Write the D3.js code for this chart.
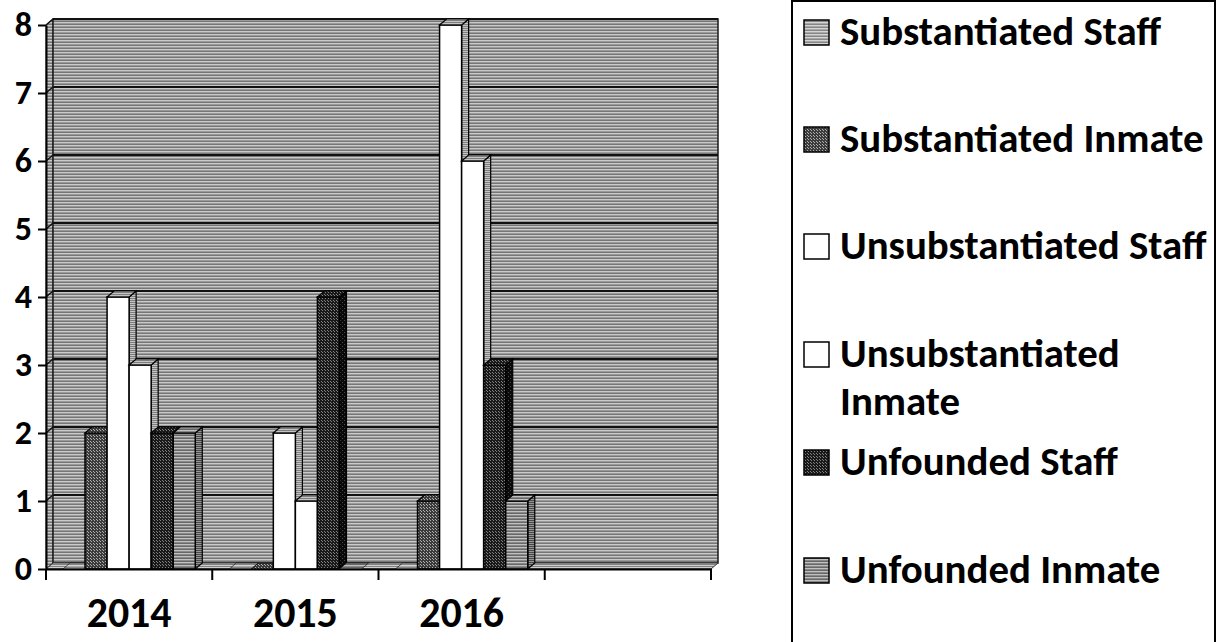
<!DOCTYPE html>
<html><head><meta charset="utf-8">
<script src="https://cdn.jsdelivr.net/npm/d3@7"></script>
<style>body{margin:0;background:#fff;} svg{display:block;}</style>
</head><body>
<svg id="chart" width="1227" height="642"></svg>
<script>
// ---- data ----
const categories = ["2014", "2015", "2016"];
const xSlotLabels = ["2014", "2015", "2016", ""];
const seriesNames = ["Substantiated Staff", "Substantiated Inmate", "Unsubstantiated Staff",
                     "Unsubstantiated Inmate", "Unfounded Staff", "Unfounded Inmate"];
const substantiatedStaff   = [0, 0, 0];
const substantiatedInmate  = [2, 0, 1];
const unsubstantiatedStaff = [4, 2, 8];
const unsubstantiatedInmate= [3, 1, 6];
const unfoundedStaff       = [2, 4, 3];
const unfoundedInmate      = [2, 0, 1];
const yTicks = [0, 1, 2, 3, 4, 5, 6, 7, 8];
const legendLines = [["Substantiated Staff"], ["Substantiated Inmate"], ["Unsubstantiated Staff"],
                     ["Unsubstantiated", "Inmate"], ["Unfounded Staff"], ["Unfounded Inmate"]];

const seriesValues = [substantiatedStaff, substantiatedInmate, unsubstantiatedStaff,
                      unsubstantiatedInmate, unfoundedStaff, unfoundedInmate];
const table = seriesNames.map((n, i) => ({name: n, values: seriesValues[i]}));

// ---- setup ----
const svg = d3.select("#chart");
const FONT = "Carlito, Calibri, Lato, 'Open Sans', sans-serif";
const defs = svg.append("defs");

function stripePattern(id, rows, w) {
  const p = defs.append("pattern").attr("id", id).attr("patternUnits", "userSpaceOnUse")
    .attr("width", w || 1).attr("height", rows.length);
  rows.forEach((c, i) => p.append("rect").attr("x", 0).attr("y", i).attr("width", w || 1).attr("height", 1).attr("fill", c));
}
function dotPattern(id, base, dot, size) {
  const p = defs.append("pattern").attr("id", id).attr("patternUnits", "userSpaceOnUse")
    .attr("width", size).attr("height", size);
  p.append("rect").attr("width", size).attr("height", size).attr("fill", base);
  p.append("rect").attr("x", 0).attr("y", 0).attr("width", 1).attr("height", 1).attr("fill", dot);
  p.append("rect").attr("x", Math.floor(size/2)).attr("y", Math.floor(size/2)).attr("width", 1).attr("height", 1).attr("fill", dot);
}
stripePattern("wall", ["#767676", "#cacaca", "#9a9a9a"]);
stripePattern("floor", ["#828282", "#cfcfcf"]);
stripePattern("pSS", ["#868686", "#d4d4d4", "#a8a8a8"]);
stripePattern("pSSside", ["#5e5e5e", "#a8a8a8"]);
dotPattern("pSI", "#3c3c3c", "#b0b0b0", 3);
dotPattern("pSIside", "#262626", "#7a7a7a", 3);
dotPattern("pUF", "#1a1a1a", "#808080", 3);
dotPattern("pUFside", "#0a0a0a", "#4a4a4a", 4);
stripePattern("pUI", ["#686868", "#c0c0c0", "#888888"]);
stripePattern("pUIside", ["#484848", "#969696"]);
stripePattern("pWside", ["#7e7e7e", "#c4c4c4"]);

const fills = {
  "Substantiated Staff":   {front: "url(#pSS)", top: "url(#pSS)", side: "url(#pSSside)"},
  "Substantiated Inmate":  {front: "url(#pSI)", top: "url(#pSI)", side: "url(#pSIside)"},
  "Unsubstantiated Staff": {front: "#ffffff", top: "url(#pWside)", side: "url(#pWside)"},
  "Unsubstantiated Inmate":{front: "#ffffff", top: "url(#pWside)", side: "url(#pWside)"},
  "Unfounded Staff":       {front: "url(#pUF)", top: "url(#pUF)", side: "url(#pUFside)"},
  "Unfounded Inmate":      {front: "url(#pUI)", top: "url(#pUI)", side: "url(#pUIside)"}
};

// ---- scales ----
const left = 46, right = 711, base = 569, topY = 25;
const DX = 7, DY = -6;
const x0 = d3.scaleBand().domain(d3.range(xSlotLabels.length)).range([left, right]).padding(0);
const x1 = d3.scaleBand().domain(seriesNames).range([0, x0.bandwidth()]).paddingInner(0).paddingOuter(0.77);
const y = d3.scaleLinear().domain([0, 8]).range([base, topY]);

const g = svg.append("g");
const poly = pts => pts.map(p => p.join(",")).join(" ");

// walls & floor
g.append("polygon").attr("points", poly([[left, y(0)], [left + DX, y(0) + DY], [left + DX, y(8) + DY], [left, y(8)]]))
  .attr("fill", "url(#wall)").attr("stroke", "#222").attr("stroke-width", 1);
g.append("rect").attr("x", left + DX).attr("y", y(8) + DY).attr("width", right - left).attr("height", y(0) - y(8))
  .attr("fill", "url(#wall)").attr("stroke", "#1a1a1a").attr("stroke-width", 1.5);
g.append("polygon").attr("points", poly([[left, y(0)], [right, y(0)], [right + DX, y(0) + DY], [left + DX, y(0) + DY]]))
  .attr("fill", "url(#floor)").attr("stroke", "#333").attr("stroke-width", 1);

// gridlines
const grid = g.append("g");
yTicks.filter(v => v > 0).forEach(v => {
  grid.append("line").attr("x1", left + DX).attr("x2", right + DX).attr("y1", y(v) + DY).attr("y2", y(v) + DY)
    .attr("stroke", "#111").attr("stroke-width", 2);
  grid.append("line").attr("x1", left).attr("x2", left + DX).attr("y1", y(v)).attr("y2", y(v) + DY)
    .attr("stroke", "#111").attr("stroke-width", 1.5);
});

// bars (left to right for correct overlap)
const bw = x1.bandwidth();
const barsG = g.append("g");
categories.forEach((cat, ci) => {
  table.forEach(s => {
    const v = s.values[ci];
    const bx = x0(ci) + x1(s.name);
    const by = y(v), b0 = y(0);
    const f = fills[s.name];
    const bg = barsG.append("g");
    if (v > 0) {
      bg.append("polygon").attr("points", poly([[bx + bw, by], [bx + bw + DX, by + DY], [bx + bw + DX, b0 + DY], [bx + bw, b0]]))
        .attr("fill", f.side).attr("stroke", "#000").attr("stroke-width", 1.2);
      bg.append("rect").attr("x", bx).attr("y", by).attr("width", bw).attr("height", b0 - by)
        .attr("fill", f.front).attr("stroke", "#000").attr("stroke-width", 1.5);
    }
    bg.append("polygon").attr("points", poly([[bx, by], [bx + DX, by + DY], [bx + bw + DX, by + DY], [bx + bw, by]]))
      .attr("fill", f.top).attr("stroke", "#000").attr("stroke-width", v > 0 ? 1.2 : 0.6);
  });
});

// ---- axes ----
const yAxis = d3.axisLeft(y).tickValues(yTicks).tickSize(8).tickSizeOuter(0).tickPadding(6).tickFormat(d3.format("d"));
const yG = svg.append("g").attr("transform", `translate(${left},0)`).call(yAxis);
yG.select(".domain").attr("stroke", "#000").attr("stroke-width", 2);
yG.selectAll(".tick line").attr("stroke", "#000").attr("stroke-width", 2);
yG.selectAll(".tick text").attr("font-family", FONT).attr("font-weight", "bold").attr("font-size", 34).attr("fill", "#000");

const xAxis = d3.axisBottom(x0).tickSize(0).tickSizeOuter(0).tickFormat(i => xSlotLabels[i]);
const xG = svg.append("g").attr("transform", `translate(0,${base})`).call(xAxis);
xG.select(".domain").attr("stroke", "#000").attr("stroke-width", 2);
xG.selectAll(".tick text").attr("font-family", FONT).attr("font-weight", "bold").attr("font-size", 34)
  .attr("fill", "#000").attr("dy", null).attr("y", 58);
// tick marks between categories
const bounds = x0.domain().map(i => x0(i)).concat([right]);
xG.selectAll(".btick").data(bounds).join("line").attr("class", "btick")
  .attr("x1", d => d).attr("x2", d => d).attr("y1", 0).attr("y2", 11).attr("stroke", "#000").attr("stroke-width", 2);

// fit x label font to reference width
(function fit() {
  const t = xG.selectAll(".tick text").nodes()[0];
  const w = t.getComputedTextLength();
  xG.selectAll(".tick text").attr("font-size", 34 * 85 / w);
})();

// ---- legend ----
const lg = svg.append("g");
lg.append("rect").attr("x", 792).attr("y", 1).attr("width", 423).attr("height", 680)
  .attr("fill", "#fff").attr("stroke", "#000").attr("stroke-width", 2);
const legendBaselines = [[45], [152], [259], [367, 415], [475], [583]];
const swatchFill = ["url(#pSS)", "url(#pSI)", "#fff", "#fff", "url(#pUF)", "url(#pUI)"];
const items = lg.selectAll(".item").data(seriesNames).join("g").attr("class", "item");
items.append("rect").attr("x", 804).attr("y", (d, i) => legendBaselines[i][0] - 25).attr("width", 25).attr("height", 25)
  .attr("fill", (d, i) => swatchFill[i]).attr("stroke", "#000").attr("stroke-width", 1.5);
const texts = items.append("text").attr("font-family", FONT).attr("font-weight", "bold").attr("font-size", 34).attr("fill", "#000");
texts.each(function(d, i) {
  const t = d3.select(this);
  legendLines[i].forEach((ln, k) => {
    t.append("tspan").attr("x", 840).attr("y", legendBaselines[i][k]).text(ln);
  });
});
(function fitLegend() {
  const n = texts.nodes()[0];
  const w = n.getComputedTextLength();
  texts.attr("font-size", 34 * 321 / w);
})();
</script>
</body></html>
